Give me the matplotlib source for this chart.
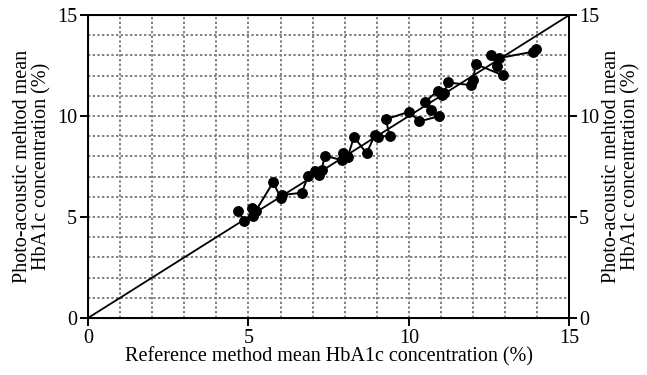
"""Photo-acoustic vs reference HbA1c agreement plot."""
import matplotlib
matplotlib.use("Agg")
import matplotlib.pyplot as plt
from matplotlib.ticker import MultipleLocator

# reference method mean HbA1c (%), in plotted order
ref_hba1c = [4.68, 4.86, 5.15, 5.10, 5.23, 5.77, 6.00, 6.06, 6.66, 6.86,
             7.07, 7.21, 7.28, 7.38, 7.90, 7.95, 8.09, 8.29, 8.68, 8.94,
             9.04, 9.40, 9.28, 10.01, 10.32, 10.94, 10.70, 10.49, 10.90, 11.03,
             11.10, 11.21, 11.92, 12.00, 12.08, 12.92, 12.76, 12.56, 12.82, 13.86,
             13.95]
# photo-acoustic method mean HbA1c (%)
pa_hba1c = [5.31, 4.80, 5.05, 5.46, 5.31, 6.72, 5.96, 6.09, 6.20, 7.03,
            7.29, 7.08, 7.33, 8.03, 7.82, 8.15, 7.96, 8.97, 8.15, 9.06,
            8.98, 9.02, 9.84, 10.21, 9.73, 9.99, 10.28, 10.68, 11.25, 11.05,
            11.12, 11.66, 11.53, 11.76, 12.57, 12.02, 12.48, 13.01, 12.87, 13.18,
            13.31]
identity = [0, 15]
major_ticks = [0, 5, 10, 15]
ylabel = "Photo-acoustic mehtod mean\nHbA1c concentration (%)"
xlabel = "Reference method mean HbA1c concentration (%)"

plt.rcParams["font.family"] = ["Liberation Serif", "DejaVu Serif"]
FS = 14.5

fig = plt.figure(figsize=(6.47, 3.75), dpi=100)
ax = fig.add_axes([0.136, 0.152, 0.744, 0.808])

ax.plot(identity, identity, color="black", lw=1.3, zorder=3)
ax.plot(ref_hba1c, pa_hba1c, color="black", lw=1.4, marker="o",
        markersize=6.8, zorder=4)

ax.set_xlim(0, 15)
ax.set_ylim(0, 15)
ax.set_xticks(major_ticks)
ax.set_yticks(major_ticks)
ax.xaxis.set_minor_locator(MultipleLocator(1))
ax.yaxis.set_minor_locator(MultipleLocator(1))
ax.grid(which="both", color="#808080", linestyle=(0, (1.2, 1.2)), lw=1.4)
ax.set_axisbelow(True)

for side in ax.spines.values():
    side.set_linewidth(1.4)
    side.set_color("black")

ax.tick_params(which="major", direction="out", length=6, width=1.4,
               labelsize=FS, pad=2, top=False)
ax.tick_params(which="minor", length=0)

ax.set_xlabel(xlabel, fontsize=FS, labelpad=-1)
ax.set_ylabel(ylabel, fontsize=FS, labelpad=4, linespacing=1.0)

# right-hand axis mirrors the left one
ax2 = ax.twinx()
ax2.set_ylim(0, 15)
ax2.set_yticks(major_ticks)
ax2.spines["right"].set_linewidth(1.4)
ax2.tick_params(direction="out", length=6, width=1.4, labelsize=FS, pad=1)
ax2.tick_params(which="minor", length=0)
ax2.set_ylabel(ylabel, fontsize=FS, rotation=90, labelpad=2,
               linespacing=1.0)

fig.savefig("out.png", dpi=100)
